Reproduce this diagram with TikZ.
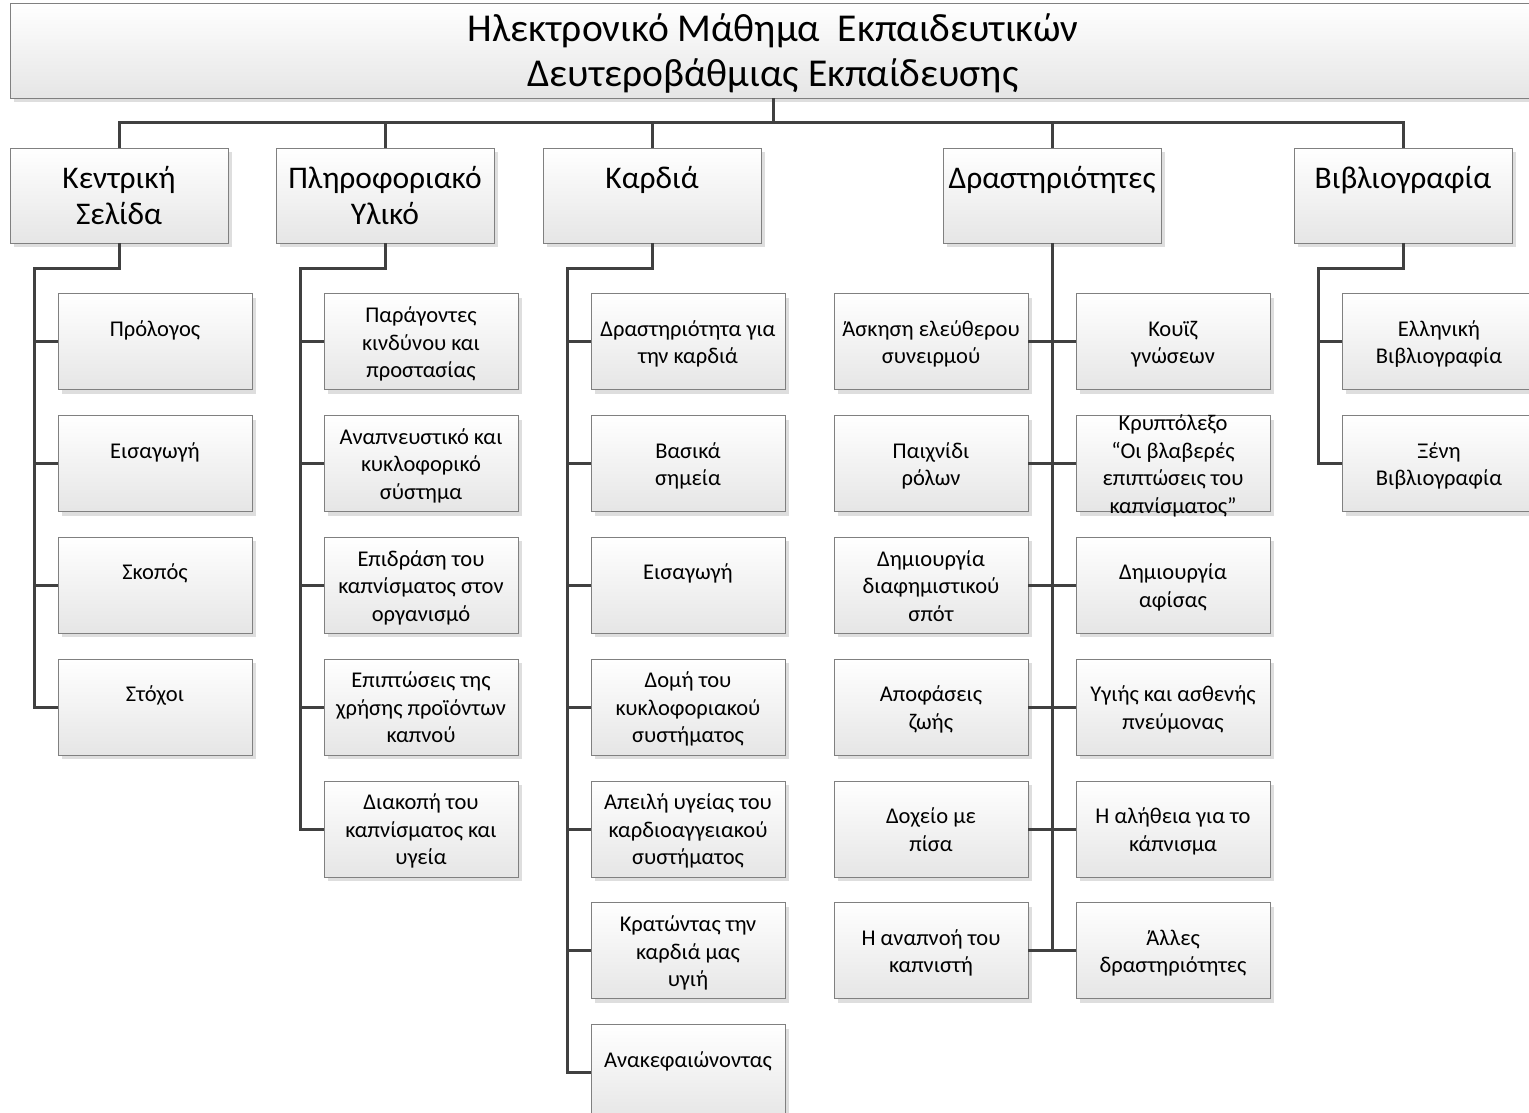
\documentclass[tikz,border=0pt]{standalone}
\usepackage{fontspec}
\setmainfont{Carlito}
\usetikzlibrary{positioning, shadows}

% line boxes a little lower than \strut, as the drawing sets them
\newcommand\setstrut{\setbox\strutbox\hbox{\vrule height .8\baselineskip depth .2\baselineskip width 0pt}}
\newcommand\boxtext[1]{\begin{tabular}{@{}c@{}}#1\end{tabular}}

\tikzset{
  box/.style={draw=black!50, line width=0.8pt, top color=white, bottom color=black!10,
    general shadow={fill=black!13, shadow xshift=4pt, shadow yshift=-4pt},
    inner sep=0pt},
  head/.style={box, minimum width=1526pt, minimum height=95pt, font=\fontsize{39.5}{45}\selectfont\setstrut},
  unit/.style={box, minimum width=218pt, minimum height=95pt, font=\fontsize{31.5}{36}\selectfont\setstrut},
  leaf/.style={box, minimum width=194pt, minimum height=96pt, font=\fontsize{22.5}{27.5}\selectfont\setstrut},
  link/.style={draw=black!75, line width=3pt},
}

\begin{document}
\begin{tikzpicture}[x=1pt, y=-1pt]
  \useasboundingbox (0,0) rectangle (1529,1112);
  \clip (0,0) rectangle (1529,1112);

  % title and first level
  \node[head] (title) at (773,50.5) {\boxtext{Ηλεκτρονικό Μάθημα~ Εκπαιδευτικών\\Δευτεροβάθμιας Εκπαίδευσης}};
  \node[unit] (ks) at (119,195.5) {\boxtext{Κεντρική\\Σελίδα}};
  \node[unit] (py) at (385,195.5) {\boxtext{Πληροφοριακό\\Υλικό}};
  \node[unit] (kr) at (652,195.5) {\boxtext{Καρδιά\\\strut}};
  \node[unit] (ds) at (1052,195.5) {\boxtext{Δραστηριότητες\\\strut}};
  \node[unit] (bi) at (1403,195.5) {\boxtext{Βιβλιογραφία\\\strut}};

  % Κεντρική Σελίδα
  \node[leaf, below=50pt of ks, xshift=36pt] (ks1) {\boxtext{Πρόλογος\\\strut}};
  \node[leaf, below=25pt of ks1] (ks2) {\boxtext{Εισαγωγή\\\strut}};
  \node[leaf, below=25pt of ks2] (ks3) {\boxtext{Σκοπός\\\strut}};
  \node[leaf, below=25pt of ks3] (ks4) {\boxtext{Στόχοι\\\strut}};

  % Πληροφοριακό Υλικό
  \node[leaf, below=50pt of py, xshift=36pt] (py1) {\boxtext{Παράγοντες\\κινδύνου και\\προστασίας}};
  \node[leaf, below=25pt of py1] (py2) {\boxtext{Αναπνευστικό και\\κυκλοφορικό\\σύστημα}};
  \node[leaf, below=25pt of py2] (py3) {\boxtext{Επιδράση του\\καπνίσματος στον\\οργανισμό}};
  \node[leaf, below=25pt of py3] (py4) {\boxtext{Επιπτώσεις της\\χρήσης προϊόντων\\καπνού}};
  \node[leaf, below=25pt of py4] (py5) {\boxtext{Διακοπή του\\καπνίσματος και\\υγεία}};

  % Καρδιά
  \node[leaf, below=50pt of kr, xshift=36pt] (kr1) {\boxtext{Δραστηριότητα για\\την καρδιά}};
  \node[leaf, below=25pt of kr1] (kr2) {\boxtext{Βασικά\\σημεία}};
  \node[leaf, below=25pt of kr2] (kr3) {\boxtext{Εισαγωγή\\\strut}};
  \node[leaf, below=25pt of kr3] (kr4) {\boxtext{Δομή του\\κυκλοφοριακού\\συστήματος}};
  \node[leaf, below=25pt of kr4] (kr5) {\boxtext{Απειλή υγείας του\\καρδιοαγγειακού\\συστήματος}};
  \node[leaf, below=25pt of kr5] (kr6) {\boxtext{Κρατώντας την\\καρδιά μας\\υγιή}};
  \node[leaf, below=25pt of kr6] (kr7) {\boxtext{Ανακεφαιώνοντας\\\strut}};

  % Δραστηριότητες
  \node[leaf, below=50pt of ds, xshift=-121pt] (dsl1) {\boxtext{Άσκηση ελεύθερου\\συνειρμού}};
  \node[leaf, below=25pt of dsl1] (dsl2) {\boxtext{Παιχνίδι\\ρόλων}};
  \node[leaf, below=25pt of dsl2] (dsl3) {\boxtext{Δημιουργία\\διαφημιστικού\\σπότ}};
  \node[leaf, below=25pt of dsl3] (dsl4) {\boxtext{Αποφάσεις\\ζωής}};
  \node[leaf, below=25pt of dsl4] (dsl5) {\boxtext{Δοχείο με\\πίσα}};
  \node[leaf, below=25pt of dsl5] (dsl6) {\boxtext{Η αναπνοή του\\καπνιστή}};
  \node[leaf, below=50pt of ds, xshift=121pt] (dsr1) {\boxtext{Κουϊζ\\γνώσεων}};
  \node[leaf, below=25pt of dsr1, inner ysep=-7pt] (dsr2) {\boxtext{Κρυπτόλεξο\\“Οι βλαβερές\\επιπτώσεις του\\καπνίσματος”}};
  \node[leaf, below=25pt of dsr2] (dsr3) {\boxtext{Δημιουργία\\αφίσας}};
  \node[leaf, below=25pt of dsr3] (dsr4) {\boxtext{Υγιής και ασθενής\\πνεύμονας}};
  \node[leaf, below=25pt of dsr4] (dsr5) {\boxtext{Η αλήθεια για το\\κάπνισμα}};
  \node[leaf, below=25pt of dsr5] (dsr6) {\boxtext{Άλλες\\δραστηριότητες}};

  % Βιβλιογραφία
  \node[leaf, below=50pt of bi, xshift=36pt] (bi1) {\boxtext{Ελληνική\\Βιβλιογραφία}};
  \node[leaf, below=25pt of bi1] (bi2) {\boxtext{Ξένη\\Βιβλιογραφία}};

  % connectors
  \draw[link] (title.south) -- ++(0,25);
  \draw[link] (ks.north) -- ++(0,-25) -| (bi.north);
  \foreach \n in {py,kr,ds} \draw[link] (\n.north) -- ++(0,-25);

  \draw[link] (ks.south) -- ++(0,25) -| ([xshift=-23pt]ks1.west) |- (ks4.west);
  \foreach \n in {ks1,ks2,ks3} \draw[link] (\n.west) -- ++(-23,0);
  \draw[link] (py.south) -- ++(0,25) -| ([xshift=-23pt]py1.west) |- (py5.west);
  \foreach \n in {py1,py2,py3,py4} \draw[link] (\n.west) -- ++(-23,0);
  \draw[link] (kr.south) -- ++(0,25) -| ([xshift=-23pt]kr1.west) |- (kr7.west);
  \foreach \n in {kr1,kr2,kr3,kr4,kr5,kr6} \draw[link] (\n.west) -- ++(-23,0);
  \draw[link] (bi.south) -- ++(0,25) -| ([xshift=-23pt]bi1.west) |- (bi2.west);
  \draw[link] (bi1.west) -- ++(-23,0);

  \draw[link] (ds.south) -- (ds.south |- dsl6.east);
  \foreach \i in {1,...,6} \draw[link] (dsl\i.east) -- (dsr\i.west);
\end{tikzpicture}
\end{document}
